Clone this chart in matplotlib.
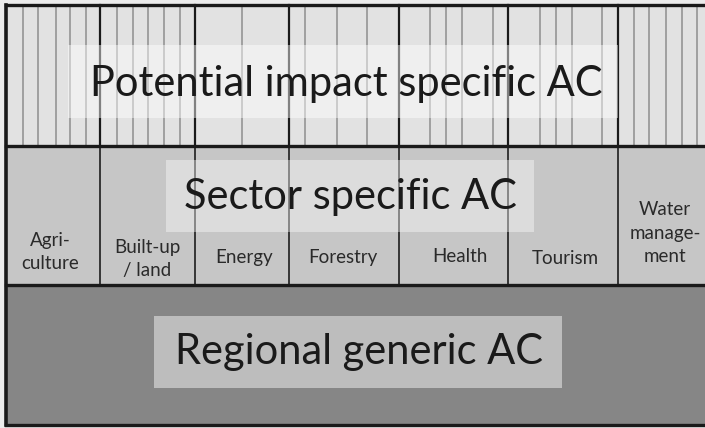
import matplotlib.pyplot as plt
from matplotlib.patches import Rectangle

plt.rcParams["font.family"] = ["Lato", "DejaVu Sans"]

# layout in pixel units of the 705 x 428 picture
band_names = ["Potential impact specific AC", "Sector specific AC", "Regional generic AC"]
band_edges = [5, 146, 285, 425]
band_colors = ["#e2e2e2", "#c6c6c6", "#868686"]

sector_labels = ["Agri-\nculture", "Built-up\n/ land", "Energy", "Forestry",
                 "Health", "Tourism", "Water\nmanage-\nment"]
sector_edges = [6, 100, 195, 289, 399, 508, 618, 705]
sector_label_x = [50, 147, 244, 343, 460, 565, 665]
sector_label_y = [252, 259, 257, 258, 256, 259, 233]

# thin lines in the potential impact band, by x position
impact_lines = [23, 38, 56, 70, 86, 117, 133, 148, 164, 180, 242, 305, 337, 367,
                430, 446, 462, 493, 540, 556, 572, 602, 634, 649, 666, 682, 697]

# (x0, y0, x1, y1) of the light boxes behind the band titles
title_boxes = [(68, 45, 618, 118), (166, 160, 534, 232), (154, 316, 562, 388)]
title_x = [346, 350, 359]
title_y = [84, 197, 352]


def main():
    fig = plt.figure(figsize=(7.05, 4.28), dpi=100)
    ax = fig.add_axes([0, 0, 1, 1])
    ax.set_xlim(0, 705)
    ax.set_ylim(428, 0)
    ax.axis("off")
    fig.patch.set_facecolor("#ececec")

    left, right = sector_edges[0], sector_edges[-1] + 2
    for i in range(3):
        top, bottom = band_edges[i], band_edges[i + 1]
        ax.add_patch(Rectangle((left, top), right - left, bottom - top,
                               facecolor=band_colors[i], edgecolor="none", zorder=1))

    # thin gray lines in the top band
    for x in impact_lines:
        ax.plot([x, x], [band_edges[0], band_edges[1]], color="#9a9a9a", lw=1.3, zorder=2)

    # sector dividers
    for x in sector_edges[1:-1]:
        ax.plot([x, x], [band_edges[0], band_edges[1]], color="#1a1a1a", lw=1.6, zorder=3)
        ax.plot([x, x], [band_edges[1], band_edges[2]], color="#2a2a2a", lw=1.3, zorder=3)

    for label, x, y in zip(sector_labels, sector_label_x, sector_label_y):
        ax.text(x, y, label, ha="center", va="center", fontsize=13.5,
                color="#2a2a2a", linespacing=1.45, zorder=6)

    # title boxes
    box_colors = ["white", "white", "#bdbdbd"]
    box_alphas = [0.45, 0.4, 1.0]
    for (x0, y0, x1, y1), c, a in zip(title_boxes, box_colors, box_alphas):
        ax.add_patch(Rectangle((x0, y0), x1 - x0, y1 - y0, facecolor=c, alpha=a,
                               edgecolor="none", zorder=4))

    for name, x, y in zip(band_names, title_x, title_y):
        ax.text(x, y, name, ha="center", va="center",
                fontsize=30, color="#1a1a1a", zorder=6)

    # band borders
    for y in band_edges:
        ax.plot([left, right], [y, y], color="#1a1a1a", lw=2.4, zorder=5)
    ax.plot([left, left], [band_edges[0], band_edges[-1]], color="#1a1a1a", lw=2.6, zorder=5)

    fig.savefig("out.png", dpi=100)
    plt.close(fig)


if __name__ == "__main__":
    main()
